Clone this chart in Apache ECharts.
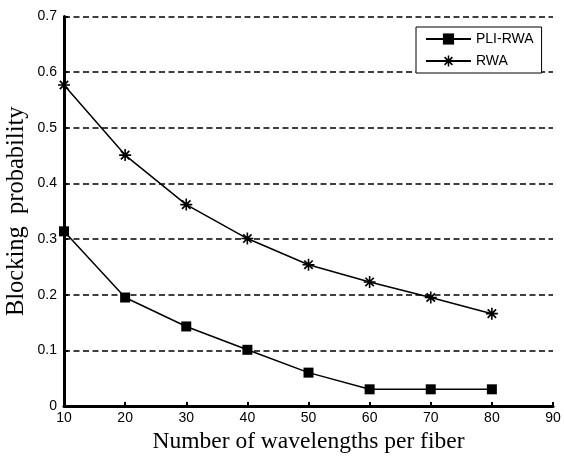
<!DOCTYPE html>
<html>
<head>
<meta charset="utf-8">
<script src="https://cdn.jsdelivr.net/npm/echarts@6/dist/echarts.min.js"></script>
<style>
  html, body { margin: 0; padding: 0; background: #fff; }
  #chart { width: 564px; height: 456px; }
</style>
</head>
<body>
<div id="chart"></div>
<script>
const wavelengths = [10, 20, 30, 40, 50, 60, 70, 80];
const pliRwa = [0.314, 0.195, 0.143, 0.101, 0.060, 0.030, 0.030, 0.030];
const rwa = [0.577, 0.451, 0.362, 0.301, 0.254, 0.223, 0.195, 0.166];
const seriesNames = ['PLI-RWA', 'RWA'];
const xTitle = 'Number of wavelengths per fiber';
const yTitle = 'Blocking  probability';

const star = 'path://M-6,-0.8 L6,-0.8 L6,0.8 L-6,0.8 Z ' +
  'M-0.8,-6 L0.8,-6 L0.8,6 L-0.8,6 Z ' +
  'M-4.8,-3.6 L-3.6,-4.8 L4.8,3.6 L3.6,4.8 Z ' +
  'M-4.8,3.6 L3.6,-4.8 L4.8,-3.6 L-3.6,4.8 Z';

const pair = (xs, ys) => xs.map((x, i) => [x, ys[i]]);

const chart = echarts.init(document.getElementById('chart'), null, { renderer: 'canvas' });
chart.setOption({
  animation: false,
  backgroundColor: '#fff',
  grid: { left: 64, right: 11, top: 16.6, bottom: 50, containLabel: false, outerBoundsMode: 'none' },
  legend: {
    left: 416, top: 27, orient: 'vertical',
    backgroundColor: '#fff', borderColor: '#000', borderWidth: 1, borderRadius: 0,
    padding: [5, 8, 5, 9], itemGap: 8, itemWidth: 45, itemHeight: 14,
    textStyle: { fontFamily: 'Liberation Sans', fontSize: 14, color: '#000' },
    data: seriesNames
  },
  xAxis: {
    type: 'value', min: 10, max: 90, interval: 10,
    name: xTitle, nameLocation: 'middle', nameGap: 24,
    nameTextStyle: { fontFamily: 'Liberation Serif', fontSize: 23.5, color: '#000' },
    axisLine: { show: true, lineStyle: { color: '#000', width: 3 } },
    axisTick: { show: true, inside: true, length: 4, lineStyle: { color: '#000', width: 2 } },
    axisLabel: { margin: 5, fontFamily: 'Liberation Sans', fontSize: 14, color: '#000' },
    splitLine: { show: false }
  },
  yAxis: {
    type: 'value', min: 0, max: 0.7, interval: 0.1,
    name: yTitle, nameLocation: 'middle', nameGap: 34.5, nameMoveOverlap: false,
    nameTextStyle: { fontFamily: 'Liberation Serif', fontSize: 24.5, color: '#000' },
    axisLine: { show: true, lineStyle: { color: '#000', width: 3 } },
    axisTick: { show: true, inside: true, length: 4, lineStyle: { color: '#000', width: 2 } },
    axisLabel: { margin: 7, fontFamily: 'Liberation Sans', fontSize: 14, color: '#000' },
    splitLine: { show: true, lineStyle: { color: '#000', width: 1.5, type: [6, 3.5] } }
  },
  series: [
    {
      name: seriesNames[0], type: 'line', data: pair(wavelengths, pliRwa),
      symbol: 'rect', symbolSize: 10,
      lineStyle: { color: '#000', width: 1.5 },
      itemStyle: { color: '#000', borderWidth: 0 }
    },
    {
      name: seriesNames[1], type: 'line', data: pair(wavelengths, rwa),
      symbol: star, symbolSize: 12,
      lineStyle: { color: '#000', width: 1.5 },
      itemStyle: { color: '#000', borderWidth: 0 }
    }
  ]
});
</script>
</body>
</html>
